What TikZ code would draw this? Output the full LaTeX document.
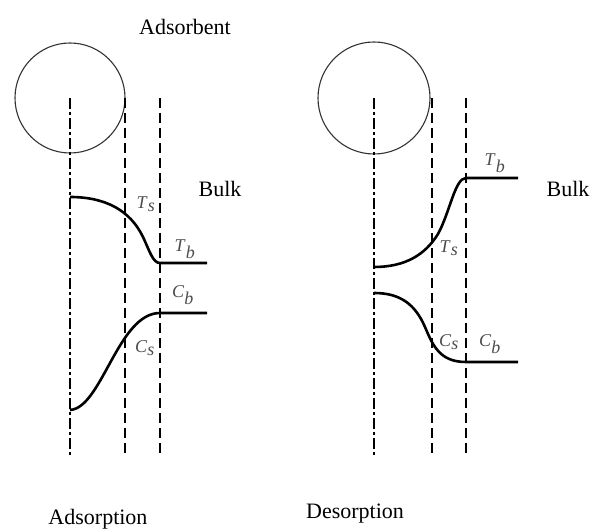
\documentclass[tikz,border=0pt]{standalone}
\usepackage{fontspec}
\setmainfont{Liberation Serif}
\begin{document}
\begin{tikzpicture}[x=1pt,y=1pt,
  ball/.style={draw=black!80, line width=1.1pt},
  axisline/.style={line width=1.5pt, dash pattern=on 11pt off 3pt on 3pt off 3pt},
  filmline/.style={line width=1.5pt, dash pattern=on 10pt off 5pt},
  profile/.style={line width=2.6pt, line cap=butt},
  sym/.style={text=black!70, font=\fontsize{18}{20}\selectfont, inner sep=0pt},
  title/.style={font=\fontsize{22}{26}\selectfont, inner sep=0pt, anchor=base}]
\useasboundingbox (0,0) rectangle (614,532);
% ---------- left panel (adsorption)
\draw[ball] (70,434) circle (55);
\coordinate (la1) at (70,434);  \coordinate (la2) at (70,74);
\coordinate (lb1) at (125,434); \coordinate (lb2) at (125,75);
\coordinate (lc1) at (160,434); \coordinate (lc2) at (160,75);
\draw[axisline] (la1) -- (la2);
\draw[filmline] (lb1) -- (lb2);
\draw[filmline] (lc1) -- (lc2);
\draw[profile] (70,335) .. controls (105,335) and (130,322) .. (143,295)
  .. controls (150,280) and (153,269) .. (160,269) -- (207,269);
\draw[profile] (70,122) .. controls (102,124) and (118,219) .. (160,219) -- (207,219);
\node[sym] (lTs) at (146,328) {\textit{T}$_{\textit{s}}$};
\node[sym] (lTb) at (185,283) {\textit{T}$_{\textit{b}}$};
\node[sym] (lCb) at (183,237) {\textit{C}$_{\textit{b}}$};
\node[sym] (lCs) at (145,184) {\textit{C}$_{\textit{s}}$};
\node[title] (adsorbent) at (185,497) {Adsorbent};
\node[title] (lbulk) at (220,335) {Bulk};
\node[title] (adsorption) at (98,7) {Adsorption};
% ---------- right panel (desorption)
\draw[ball] (374,434) circle (56);
\coordinate (ra1) at (374,434); \coordinate (ra2) at (374,74);
\coordinate (rb1) at (432,434); \coordinate (rb2) at (432,75);
\coordinate (rc1) at (466,434); \coordinate (rc2) at (466,75);
\draw[axisline] (ra1) -- (ra2);
\draw[filmline] (rb1) -- (rb2);
\draw[filmline] (rc1) -- (rc2);
\draw[profile] (374,265) .. controls (405,265) and (425,277) .. (438,298)
  .. controls (450,320) and (455,354) .. (466,354) -- (518,354);
\draw[profile] (374,239) .. controls (400,239) and (415,228) .. (425,205)
  .. controls (433,186) and (440,170) .. (466,170) -- (518,170);
\node[sym] (rTb) at (495,369) {\textit{T}$_{\textit{b}}$};
\node[sym] (rTs) at (449,284) {\textit{T}$_{\textit{s}}$};
\node[sym] (rCs) at (449,190) {\textit{C}$_{\textit{s}}$};
\node[sym] (rCb) at (490,188) {\textit{C}$_{\textit{b}}$};
\node[title] (rbulk) at (568,335) {Bulk};
\node[title] (desorption) at (355,13) {Desorption};
\end{tikzpicture}
\end{document}
